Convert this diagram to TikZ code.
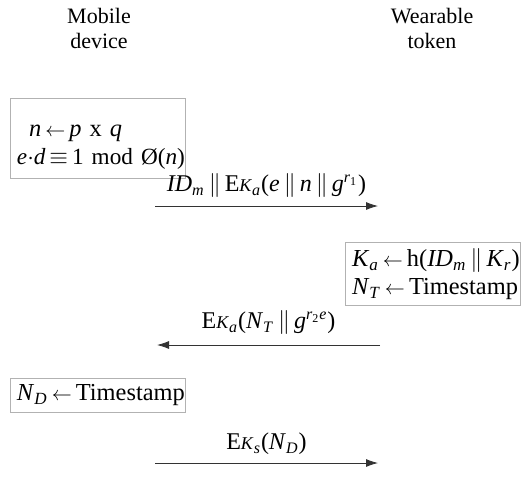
\documentclass[tikz,border=0pt]{standalone}
\usepackage{fontspec}
\setmainfont{Liberation Serif}
\usetikzlibrary{positioning, arrows.meta}
\newcommand{\getsarrow}{\,{\fontsize{10}{10}\selectfont$\leftarrow$}\,}

\begin{document}
\begin{tikzpicture}[x=0.5pt, y=-0.5pt, >={Latex[length=6pt,width=4pt]},
  party/.style={align=center,font=\fontsize{11}{12.5}\selectfont},
  calcbox/.style={draw=gray!60,thin,text width=80.5pt,inner xsep=3.5pt,inner ysep=0pt,align=left,font=\fontsize{12.2}{14}\selectfont},
  msg/.style={font=\fontsize{12}{14}\selectfont,inner sep=1pt},
  flow/.style={->,draw=black!80,thin}]
  \useasboundingbox (0,0) rectangle (526,495);
  \node[party] (mobile) at (99,28) {Mobile\\device};
  \node[party] (token) at (432,28) {Wearable\\token};
  \node[calcbox, minimum height=40pt] (keygen) at (97.5,138) {\mbox{\rule{0pt}{15pt}\hspace{6pt}\textit{n}\getsarrow\textit{p} x \textit{q}}\\\mbox{\fontsize{11.6}{14}\selectfont\textit{e}${\cdot}$\textit{d}\,${\equiv}$\,1 mod Ø(\textit{n})}};
  \coordinate (m1s) at (155,206);
  \coordinate (m1e) at (378,206);
  \draw[flow] (m1s) -- (m1e) node[midway,above=3pt,msg] {\textit{ID}\textsubscript{\textit{m}}\,${\|}$\,E{\small\textit{K}}\textsubscript{\textit{a}}(\textit{e}\,${\|}$\,\textit{n}\,${\|}$\,\textit{g}\textsuperscript{\textit{r}\textsubscript{1}})};
  \node[calcbox, minimum height=31.5pt] (derive) at (432.5,274) {\mbox{\textit{K}\textsubscript{\textit{a}}\getsarrow h(\textit{ID}\textsubscript{\textit{m}}\,${\|}$\,\textit{K}\textsubscript{\textit{r}})}\\\mbox{\textit{N}\textsubscript{\textit{T}}\getsarrow Timestamp}};
  \coordinate (m2s) at (380,345);
  \coordinate (m2e) at (157,345);
  \draw[flow] (m2s) -- (m2e) node[midway,above=4pt,msg] {E{\small\textit{K}}\textsubscript{\textit{a}}(\textit{N}\textsubscript{\textit{T}}\,${\|}$\,\textit{g}\textsuperscript{\textit{r}\textsubscript{2}\textit{e}})};
  \node[calcbox, minimum height=17pt] (stamp) at (97.5,395) {\mbox{\textit{N}\textsubscript{\textit{D}}\getsarrow Timestamp}};
  \coordinate (m3s) at (155,463);
  \coordinate (m3e) at (378,463);
  \draw[flow] (m3s) -- (m3e) node[midway,above=3pt,msg] {E{\small\textit{K}}\textsubscript{\textit{s}}(\textit{N}\textsubscript{\textit{D}})};
\end{tikzpicture}
\end{document}
